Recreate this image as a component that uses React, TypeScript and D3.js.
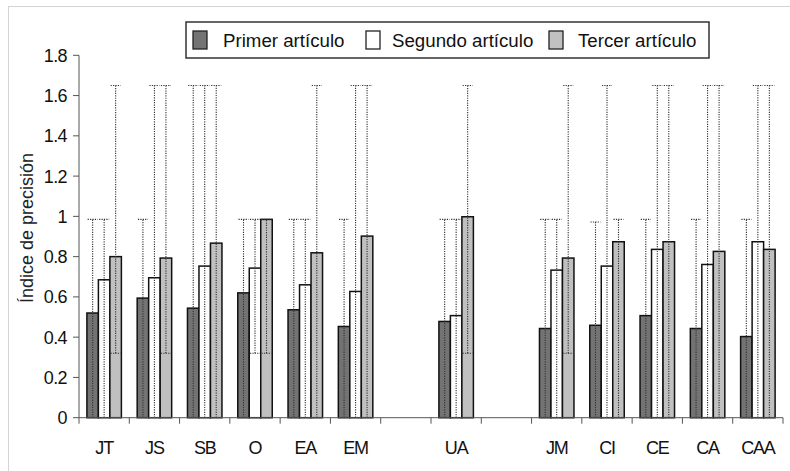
import React from "react";
import * as d3 from "d3";

const categories = ["JT", "JS", "SB", "O", "EA", "EM", "", "UA", "", "JM", "CI", "CE", "CA", "CAA"];
const seriesNames = ["Primer artículo", "Segundo artículo", "Tercer artículo"];
const primer = [0.52, 0.594, 0.544, 0.62, 0.536, 0.453, null, 0.478, null, 0.443, 0.459, 0.507, 0.443, 0.403];
const segundo = [0.685, 0.695, 0.753, 0.743, 0.66, 0.627, null, 0.507, null, 0.733, 0.753, 0.836, 0.761, 0.874];
const tercer = [0.8, 0.793, 0.867, 0.985, 0.819, 0.902, null, 0.998, null, 0.793, 0.874, 0.874, 0.826, 0.836];
const primerHi = [0.985, 0.985, 1.65, 0.985, 0.985, 0.985, null, 0.985, null, 0.985, 0.972, 0.985, 0.985, 0.985];
const segundoHi = [0.985, 1.65, 1.65, 0.985, 0.985, 1.65, null, 0.985, null, 0.985, 1.65, 1.65, 1.65, 1.65];
const tercerHi = [1.65, 1.65, 1.65, 0.985, 1.65, 1.65, null, 1.65, null, 1.65, 0.985, 1.65, 1.65, 1.65];
const primerLo = [0, 0, 0, 0, 0, 0, null, 0, null, 0, 0, 0, 0, 0];
const segundoLo = [0, 0, 0, 0.32, 0, 0, null, 0, null, 0, 0, 0, 0, 0];
const tercerLo = [0.32, 0.32, 0, 0.32, 0, 0, null, 0.32, null, 0.32, 0, 0, 0, 0];
const yTicks = [0, 0.2, 0.4, 0.6, 0.8, 1, 1.2, 1.4, 1.6, 1.8];
const yTitle = "Índice de precisión";

const values = [primer, segundo, tercer];
const his = [primerHi, segundoHi, tercerHi];
const los = [primerLo, segundoLo, tercerLo];
const fills = ["#737373", "#ffffff", "#c0c0c0"];

export default function App() {
  const W = 790, H = 471;
  const x0 = 79, x1 = 783, yTop = 55.3, yBot = 417.7;
  const keys = categories.map((_, i) => String(i));
  const pad = 0.314;
  const x = d3.scaleBand<string>().domain(keys).range([x0, x1]).paddingInner(pad).paddingOuter(pad / 2);
  const xs = d3.scaleBand<string>().domain(["0", "1", "2"]).range([0, x.bandwidth()]).padding(0);
  const y = d3.scaleLinear().domain([0, 1.8]).range([yBot, yTop]);
  const step = x.step();
  const boundaries = d3.range(categories.length + 1).map((i) => x0 + i * step);
  const font = "'Liberation Sans', Arial, sans-serif";
  const capW = 10;

  const legendX = [193, 366, 549];
  const legendTextX = [223, 392, 578];

  return (
    <svg width={W} height={H} style={{ position: "absolute", left: 0, top: 0, background: "#fff" }} fontFamily={font}>
      <rect x={8.5} y={6.5} width={900} height={600} fill="#fff" stroke="#d4d4d4" strokeWidth={1} />
      {/* bars */}
      {values.map((arr, s) =>
        arr.map((v, i) =>
          v == null ? null : (
            <rect
              key={`b${s}-${i}`}
              x={(x(keys[i]) as number) + (xs(String(s)) as number)}
              y={y(v)}
              width={xs.bandwidth()}
              height={y(0) - y(v)}
              fill={fills[s]}
              stroke="#111"
              strokeWidth={1.5}
            />
          )
        )
      )}
      {/* error bars */}
      {his.map((arr, s) =>
        arr.map((hi, i) => {
          const lo = los[s][i];
          if (hi == null || lo == null) return null;
          const cx = (x(keys[i]) as number) + (xs(String(s)) as number) + xs.bandwidth() / 2;
          return (
            <g key={`e${s}-${i}`} stroke="#333" strokeWidth={1.1} strokeDasharray="1.2,1.2">
              <line x1={cx} x2={cx} y1={y(lo)} y2={y(hi)} />
              <line x1={cx - capW / 2} x2={cx + capW / 2} y1={y(hi)} y2={y(hi)} />
              {lo > 0 ? <line x1={cx - capW / 2} x2={cx + capW / 2} y1={y(lo)} y2={y(lo)} /> : null}
            </g>
          );
        })
      )}
      {/* y axis */}
      <line x1={x0} x2={x0} y1={yTop} y2={yBot} stroke="#555" strokeWidth={1} />
      {yTicks.map((t) => (
        <g key={`yt${t}`}>
          <line x1={x0 - 6} x2={x0} y1={y(t)} y2={y(t)} stroke="#555" strokeWidth={1} />
          <text x={x0 - 12} y={y(t)} dy="0.36em" textAnchor="end" fontSize={18} letterSpacing={-0.6} fill="#111">
            {String(t)}
          </text>
        </g>
      ))}
      {/* x axis */}
      <line x1={x0} x2={x1} y1={yBot} y2={yBot} stroke="#555" strokeWidth={1} />
      {boundaries.map((bx, i) => (
        <line key={`xt${i}`} x1={bx} x2={bx} y1={yBot} y2={yBot + 6} stroke="#555" strokeWidth={1} />
      ))}
      {categories.map((c, i) => (
        <text
          key={`xl${i}`}
          x={(x(keys[i]) as number) + x.bandwidth() / 2}
          y={454}
          textAnchor="middle"
          fontSize={18}
          letterSpacing={-1.2}
          fill="#111"
        >
          {c}
        </text>
      ))}
      {/* y title */}
      <text transform={`translate(33,228) rotate(-90)`} textAnchor="middle" fontSize={18} fill="#222">
        {yTitle}
      </text>
      {/* legend */}
      <rect x={186} y={22} width={523} height={36} fill="#fff" stroke="#333" strokeWidth={1.5} />
      {seriesNames.map((n, s) => (
        <g key={`lg${s}`}>
          <rect x={legendX[s]} y={31} width={14} height={18} fill={fills[s]} stroke="#222" strokeWidth={1.3} />
          <text x={legendTextX[s]} y={47} fontSize={18.7} fill="#111">
            {n}
          </text>
        </g>
      ))}
    </svg>
  );
}
